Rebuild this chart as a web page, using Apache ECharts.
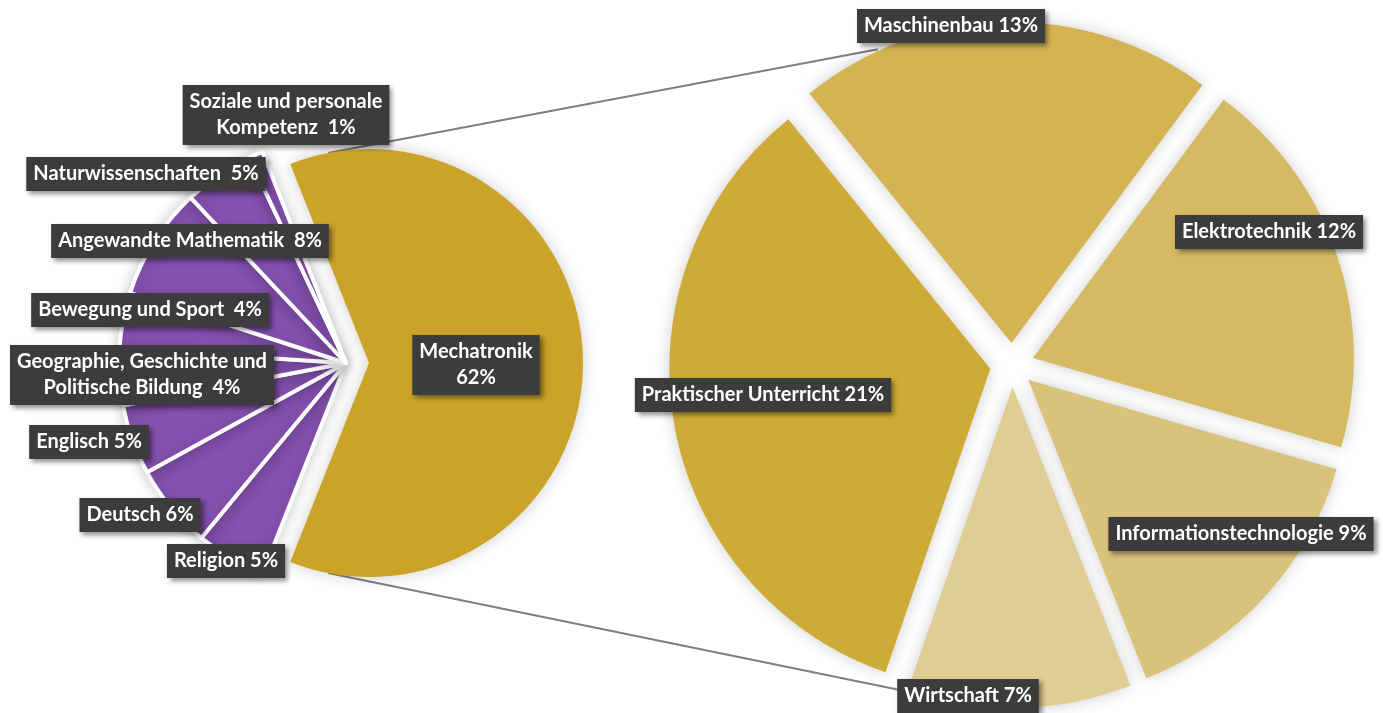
<!DOCTYPE html>
<html>
<head>
<meta charset="utf-8">
<script src="https://cdn.jsdelivr.net/npm/echarts@6/dist/echarts.min.js"></script>
<style>
  html, body { margin: 0; padding: 0; background: #fff; }
  #main { width: 1383px; height: 713px; }
</style>
</head>
<body>
<div id="main"></div>
<script>
// left pie: Mechatronik first, then the others clockwise from the bottom
var leftNames = ['Mechatronik', 'Religion', 'Deutsch', 'Englisch',
  'Geographie, Geschichte und\nPolitische Bildung ', 'Bewegung und Sport ',
  'Angewandte Mathematik ', 'Naturwissenschaften ', 'Soziale und personale\nKompetenz '];
var leftValues = [62, 5, 6, 5, 4, 4, 8, 5, 1];

// right pie: split of Mechatronik
var rightNames = ['Maschinenbau', 'Elektrotechnik', 'Informationstechnologie', 'Wirtschaft', 'Praktischer Unterricht'];
var rightValues = [13, 12, 9, 7, 21];
var rightColors = ['#d3b352', '#d5b963', '#d9c27b', '#e0cd94', '#ceab36'];

// label centres (px)
var leftLabelPos = [[476, 365], [226, 561], [140, 515], [89, 442], [142, 375], [150, 310], [190, 241], [146, 174], [286, 115]];
var rightLabelPos = [[951, 26], [1269, 232], [1241, 534], [968, 696], [763, 395]];

var leftCenter = [346, 363], goldR = 214, goldOffset = 23, purpleR = 227;
var rightCenter = [1012, 365], rightR = 321, rightOffset = 22;

var total = leftValues.reduce(function (a, b) { return a + b; }, 0);
var leftStart = leftValues[0] / total * 360 / 2;
var rightStart = 129;

var boxStyle = {
  color: '#fff', fontFamily: 'Lato', fontWeight: 'bold', fontSize: 20, lineHeight: 26,
  backgroundColor: '#3c3c3c', padding: [4, 7, 4, 7],
  shadowColor: 'rgba(0,0,0,0.45)', shadowBlur: 5, shadowOffsetX: 3, shadowOffsetY: 3
};
var sliceShadow = { shadowBlur: 16, shadowColor: 'rgba(0,0,0,0.2)' };
var clear = { color: 'rgba(0,0,0,0)', borderWidth: 0, shadowBlur: 0 };

function placeAt(list) {
  return function (p) {
    return { x: list[p.dataIndex][0], y: list[p.dataIndex][1], align: 'center', verticalAlign: 'middle' };
  };
}

function pt(c, r, deg) {
  var a = deg * Math.PI / 180;
  return [c[0] + r * Math.cos(a), c[1] - r * Math.sin(a)];
}

var goldApex = [leftCenter[0] + goldOffset, leftCenter[1]];
var lineTopA = pt(goldApex, goldR, 101), lineBotA = pt(goldApex, goldR, -101);
var lineTopB = pt(rightCenter, rightR + rightOffset, 113), lineBotB = pt(rightCenter, rightR + rightOffset, -108);

var myChart = echarts.init(document.getElementById('main'));

var option = {
  animation: false,
  graphic: [
    { type: 'line', z: 1, shape: { x1: lineTopA[0], y1: lineTopA[1], x2: lineTopB[0], y2: lineTopB[1] }, style: { stroke: '#7f7f7f', lineWidth: 2 } },
    { type: 'line', z: 1, shape: { x1: lineBotA[0], y1: lineBotA[1], x2: lineBotB[0], y2: lineBotB[1] }, style: { stroke: '#7f7f7f', lineWidth: 2 } }
  ],
  series: [
    {
      // exploded Mechatronik slice
      type: 'pie', name: 'gold', center: leftCenter, radius: goldR,
      startAngle: leftStart, clockwise: true,
      selectedMode: 'single', selectedOffset: goldOffset, avoidLabelOverlap: false,
      emphasis: { disabled: true }, silent: true,
      data: leftNames.map(function (n, i) {
        return {
          name: n, value: leftValues[i], selected: i === 0,
          itemStyle: i === 0 ? Object.assign({ color: '#cba328' }, sliceShadow) : clear
        };
      }),
      label: { show: false }, labelLine: { show: false }
    },
    {
      // purple subjects + all left labels
      type: 'pie', name: 'purple', center: leftCenter, radius: purpleR,
      startAngle: leftStart, clockwise: true, avoidLabelOverlap: false,
      emphasis: { disabled: true }, silent: true,
      data: leftNames.map(function (n, i) {
        return {
          name: n, value: leftValues[i],
          itemStyle: i === 0 ? clear
            : Object.assign({ color: '#8551b0', borderColor: '#fff', borderWidth: 4 }, sliceShadow)
        };
      }),
      label: Object.assign({
        position: 'inside',
        formatter: function (p) { return p.name + (p.dataIndex === 0 ? '\n' : ' ') + p.value + '%'; }
      }, boxStyle),
      labelLine: { show: false },
      labelLayout: placeAt(leftLabelPos)
    },
    {
      // exploded breakdown pie
      type: 'pie', name: 'right', center: rightCenter, radius: rightR,
      startAngle: rightStart, clockwise: true,
      selectedMode: 'multiple', selectedOffset: rightOffset, avoidLabelOverlap: false,
      emphasis: { disabled: true }, silent: true,
      data: rightNames.map(function (n, i) {
        return { name: n, value: rightValues[i], selected: true, itemStyle: Object.assign({ color: rightColors[i] }, sliceShadow) };
      }),
      label: { show: false }, labelLine: { show: false }
    },
    {
      // labels of the breakdown pie
      type: 'pie', name: 'rightLabels', center: rightCenter, radius: rightR,
      startAngle: rightStart, clockwise: true, avoidLabelOverlap: false,
      emphasis: { disabled: true }, silent: true,
      data: rightNames.map(function (n, i) {
        return { name: n, value: rightValues[i], itemStyle: clear };
      }),
      label: Object.assign({ position: 'inside', formatter: function (p) { return p.name + ' ' + p.value + '%'; } }, boxStyle),
      labelLine: { show: false },
      labelLayout: placeAt(rightLabelPos)
    }
  ]
};

myChart.setOption(option);
</script>
</body>
</html>
